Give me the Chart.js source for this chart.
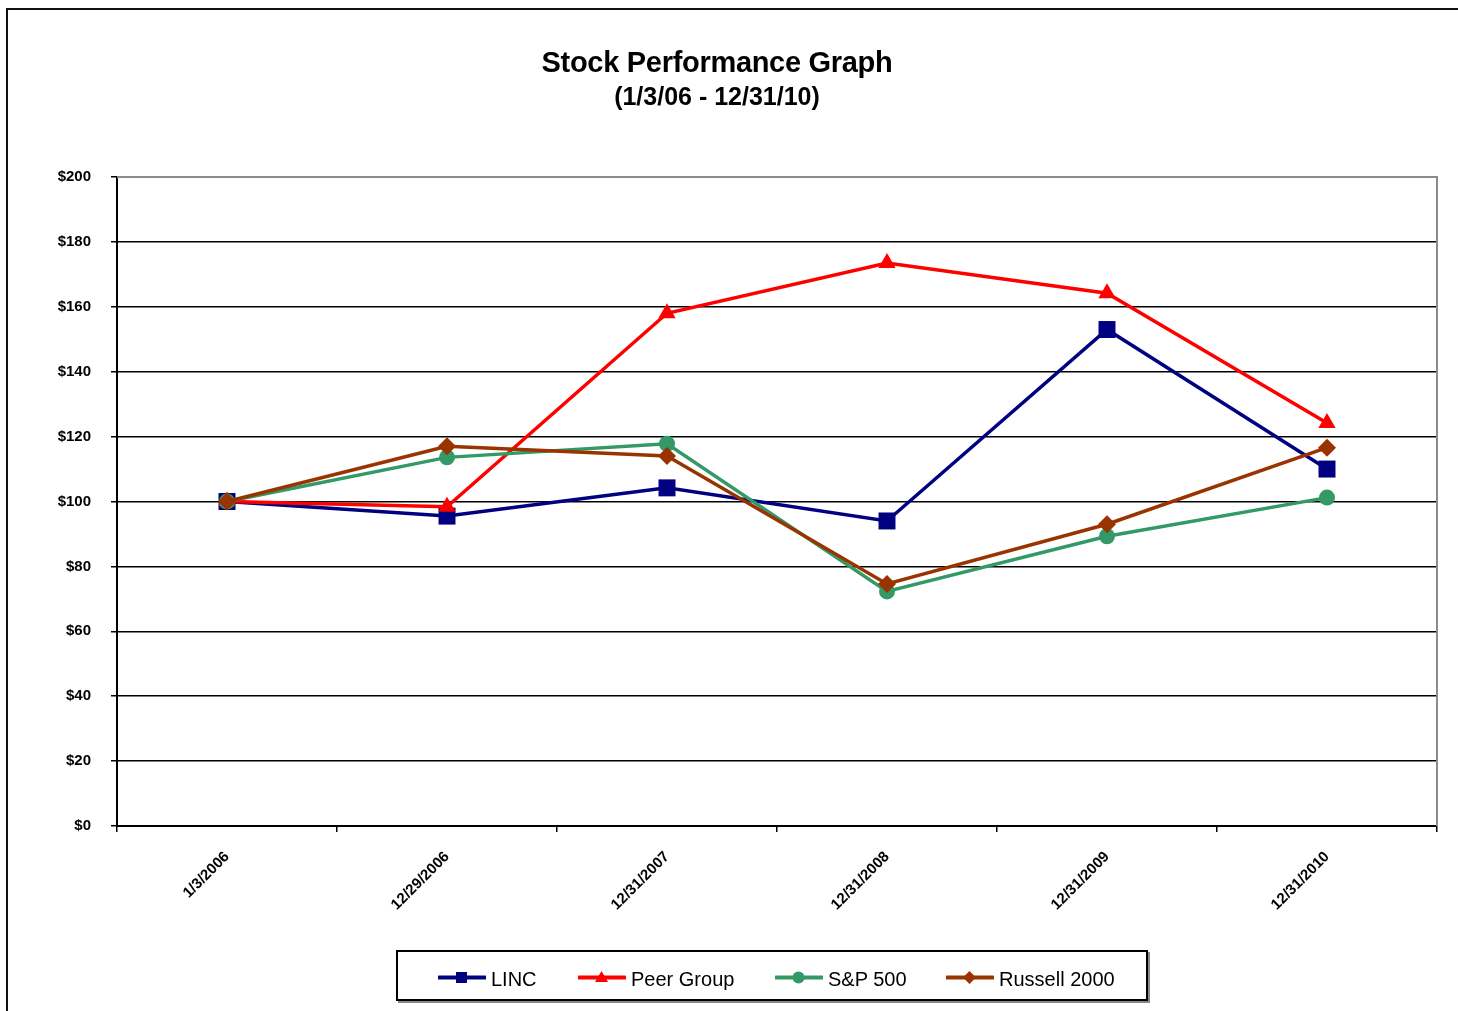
<!DOCTYPE html>
<html>
<head>
<meta charset="utf-8">
<script src="https://cdn.jsdelivr.net/npm/chart.js@4"></script>
<style>
  body { margin: 0; overflow: hidden; background: #fff; font-family: "Liberation Sans", Arial, sans-serif; }
  #frame { position: absolute; left: 6px; top: 8px; width: 1600px; height: 1200px; border-left: 2px solid #111; border-top: 2px solid #111; }
  #wrap { position: absolute; left: 0; top: 0; width: 1458px; height: 1011px; }
  #title { position: absolute; left: 0; width: 1434px; top: 45px; text-align: center; font-weight: bold; color: #000; }
  #title .t1 { font-size: 29px; line-height: 34px; letter-spacing: -0.3px; }
  #title .t2 { font-size: 25px; line-height: 34px; }
  #legend { position: absolute; left: 396px; top: 950px; width: 748px; height: 47px; border: 2px solid #000; box-shadow: 2px 2px 0 #888; background: #fff; }
  .item { position: absolute; top: 0; height: 47px; font-size: 20px; color: #000; }
  .item svg { position: absolute; top: 16px; left: 0; }
  .item span { position: absolute; top: 16px; white-space: nowrap; line-height: 22px; }
</style>
</head>
<body>
<div id="frame"></div>
<div id="wrap"><canvas id="perfChart"></canvas></div>
<div id="title"><div class="t1">Stock Performance Graph</div><div class="t2">(1/3/06 - 12/31/10)</div></div>
<div id="legend"></div>
<script>
// data
let dates = ['1/3/2006', '12/29/2006', '12/31/2007', '12/31/2008', '12/31/2009', '12/31/2010'];
let linc = [100, 95.5, 104.2, 94, 153, 110];
let peerGroup = [100, 98.4, 158, 173.5, 164.2, 124.2];
let sp500 = [100, 113.6, 117.8, 72.3, 89.3, 101.2];
let russell2000 = [100, 117, 114, 74.6, 93, 116.6];
let yTicks = [0, 20, 40, 60, 80, 100, 120, 140, 160, 180, 200];

let seriesNames = ['LINC', 'Peer Group', 'S&P 500', 'Russell 2000'];
let seriesColors = ['#000080', '#ff0000', '#339966', '#993300'];
let seriesStyles = ['rect', 'triangle', 'circle', 'rectRot'];
let seriesRadius = [12, 10, 8, 9];
let seriesData = [linc, peerGroup, sp500, russell2000];

let datasets = seriesNames.map(function (name, i) {
    return {
        label: name,
        data: seriesData[i],
        borderColor: seriesColors[i],
        backgroundColor: seriesColors[i],
        borderWidth: 3.5,
        pointStyle: seriesStyles[i],
        pointRadius: seriesRadius[i],
        pointBorderWidth: 0,
        tension: 0,
        order: 4 - i
    };
});

// grey border round the top and right of the plot
let plotFrame = {
    id: 'plotFrame',
    afterDatasetsDraw: function (chart) {
        let a = chart.chartArea;
        let c = chart.ctx;
        c.save();
        c.strokeStyle = '#8c8c8c';
        c.lineWidth = 2;
        c.beginPath();
        c.moveTo(a.left, a.top);
        c.lineTo(a.right, a.top);
        c.lineTo(a.right, a.bottom);
        c.stroke();
        c.restore();
    }
};

let ctx = document.getElementById('perfChart').getContext('2d');

let perfChart = new Chart(ctx, {
    type: 'line',
    data: { labels: dates, datasets: datasets },
    options: {
        responsive: true,
        maintainAspectRatio: false,
        animation: false,
        layout: { padding: { top: 177, right: 21, left: 0, bottom: 0 } },
        plugins: { legend: { display: false }, tooltip: { enabled: false } },
        scales: {
            x: {
                offset: true,
                grid: { drawOnChartArea: false, offset: true, tickLength: 6, color: '#000', lineWidth: 1.5 },
                border: { color: '#000', width: 2 },
                ticks: {
                    minRotation: 45, maxRotation: 45, padding: 16, color: '#000',
                    font: { family: 'Liberation Sans', size: 15, weight: 'bold' }
                },
                afterFit: function (s) { s.height = 1011 - 826; }
            },
            y: {
                min: 0,
                max: 200,
                afterBuildTicks: function (s) { s.ticks = yTicks.map(function (v) { return { value: v }; }); },
                grid: { color: '#000', lineWidth: 1.5, tickLength: 6 },
                border: { color: '#000', width: 2 },
                ticks: {
                    padding: 20, color: '#000',
                    font: { family: 'Liberation Sans', size: 15, weight: 'bold' },
                    callback: function (v) { return '$' + v; }
                },
                afterFit: function (s) { s.width = 117; }
            }
        }
    },
    plugins: [plotFrame]
});

// legend: line sample with marker, then the name
let legendX = [40, 180, 377, 548];
let legendBox = document.getElementById('legend');
seriesNames.forEach(function (name, i) {
    let c = seriesColors[i];
    let m = '';
    if (seriesStyles[i] == 'rect') m = '<rect x="18" y="4" width="11" height="11" fill="' + c + '"/>';
    if (seriesStyles[i] == 'triangle') m = '<polygon points="23.5,3 30,14 17,14" fill="' + c + '"/>';
    if (seriesStyles[i] == 'circle') m = '<circle cx="23.5" cy="9.5" r="6" fill="' + c + '"/>';
    if (seriesStyles[i] == 'rectRot') m = '<polygon points="23.5,3 30,9.5 23.5,16 17,9.5" fill="' + c + '"/>';
    let div = document.createElement('div');
    div.className = 'item';
    div.style.left = legendX[i] + 'px';
    div.innerHTML = '<svg width="48" height="19"><line x1="1" y1="9.5" x2="47" y2="9.5" stroke="' + c +
        '" stroke-width="4" stroke-linecap="round"/>' + m + '</svg><span style="left:53px">' + name + '</span>';
    legendBox.appendChild(div);
});
</script>
</body>
</html>
